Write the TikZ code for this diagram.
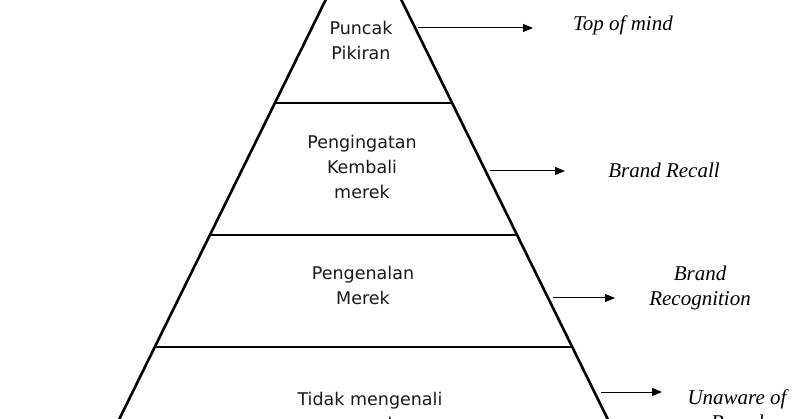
\documentclass[tikz,border=0pt]{standalone}
\usepackage{fontspec}
\setmainfont{Liberation Serif}
\newfontfamily\tierfont{DejaVu Sans}
\usetikzlibrary{arrows.meta}
\tikzstyle{wall}=[line width=2.6pt]
\tikzstyle{pointer}=[line width=1pt, -{Triangle[length=10pt,width=8pt]}]
\tikzstyle{tiertext}=[font=\tierfont\fontsize{17.5}{25}\selectfont, align=center, text=black!90, inner sep=0pt]
\tikzstyle{awarelabel}=[font=\itshape\fontsize{21}{25}\selectfont, align=center, inner sep=0pt]

\begin{document}
\begin{tikzpicture}[x=1pt, y=-1pt]
        \useasboundingbox (0,0) rectangle (800,419);
        \clip (0,0) rectangle (800,419);
        \fill[white] (0,0) rectangle (800,419);
        % pyramid
        \coordinate (apex) at (363.5,-77);
        \coordinate (BL) at (109,440);
        \coordinate (BR) at (618,440);
        \draw[wall] (BL) -- (apex) -- (BR);
        \coordinate (L1) at (275,103);
        \coordinate (R1) at (452,103);
        \coordinate (L2) at (210,235);
        \coordinate (R2) at (517,235);
        \coordinate (L3) at (155,347);
        \coordinate (R3) at (572,347);
        \draw[wall] (L1) -- (R1);
        \draw[wall] (L2) -- (R2);
        \draw[wall] (L3) -- (R3);
        % tiers
        \node[tiertext] (peak) at (361,40) {Puncak\\Pikiran};
        \node[tiertext] (recall) at (362,167) {Pengingatan\\Kembali\\merek};
        \node[tiertext] (recog) at (363,285) {Pengenalan\\Merek};
        \node[tiertext] (unaware) at (370,411) {Tidak mengenali\\merek};
        % awareness levels
        \node[awarelabel] (tom) at (623,25) {Top of mind};
        \node[awarelabel] (brecall) at (664,170) {Brand Recall};
        \node[awarelabel] (brecog) at (700,288) {Brand\\Recognition};
        \node[awarelabel] (bunaware) at (737,410) {Unaware of\\Brand};
        % arrows
        \coordinate (s1) at (418,28);
        \coordinate (t1) at (533,28);
        \coordinate (s2) at (490,171);
        \coordinate (t2) at (565,171);
        \coordinate (s3) at (553,298);
        \coordinate (t3) at (615,298);
        \coordinate (s4) at (601,392);
        \coordinate (t4) at (662,392);
        \draw[pointer] (s1) -- (t1);
        \draw[pointer] (s2) -- (t2);
        \draw[pointer] (s3) -- (t3);
        \draw[pointer] (s4) -- (t4);
    \end{tikzpicture}
\end{document}
